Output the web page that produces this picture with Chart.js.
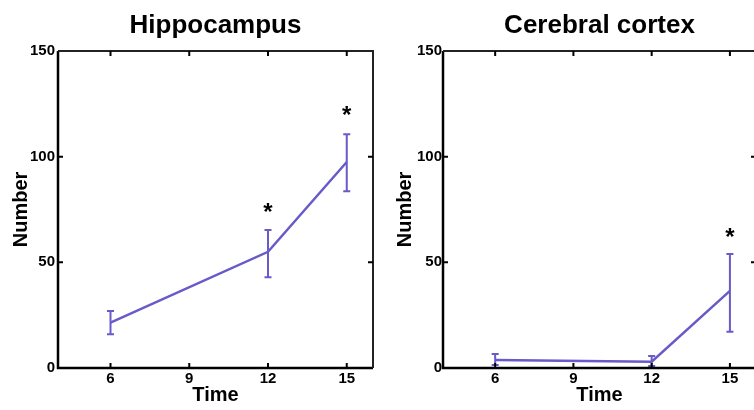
<!DOCTYPE html>
<html>
<head>
<meta charset="utf-8">
<script src="https://cdn.jsdelivr.net/npm/chart.js@4.4.1/dist/chart.umd.min.js"></script>
<style>
  html, body { margin: 0; padding: 0; background: #fff; }
  #wrap { position: relative; width: 754px; height: 410px; overflow: hidden; }
  .panel { position: absolute; top: 0; }
</style>
</head>
<body>
<div id="wrap">
  <div class="panel" style="left:0"><canvas id="hippo" width="380" height="410"></canvas></div>
  <div class="panel" style="left:380px"><canvas id="cortex" width="390" height="410"></canvas></div>
</div>
<script>
/* data */
const times = [6, 12, 15];
const xTicks = [6, 9, 12, 15];
const yTicks = [0, 50, 100, 150];

const hippoMean  = [21.5, 55, 97.5];
const hippoUpper = [27, 65.3, 110.6];
const hippoLower = [16, 43, 83.6];
const hippoStars = [{ x: 12, y: 75 }, { x: 15, y: 121 }];

const cortexMean  = [3.8, 3, 36.5];
const cortexUpper = [6.6, 5.7, 53.9];
const cortexLower = [1.4, 1, 17.2];
const cortexStars = [{ x: 15, y: 63 }];

const LINE = "rgb(104,90,200)";
const FONT = "'Liberation Sans', Arial, sans-serif";

/* title over the plot box, frame, inward ticks, error bars, asterisks */
const extras = {
  id: "extras",
  afterDatasetsDraw(chart, args, opts) {
    const { ctx, chartArea: a, scales: { x, y } } = chart;
    ctx.save();

    // error bars
    ctx.strokeStyle = LINE;
    ctx.lineWidth = 2;
    opts.mean.forEach((m, i) => {
      const px = x.getPixelForValue(times[i]);
      const top = y.getPixelForValue(opts.upper[i]);
      const bot = y.getPixelForValue(opts.lower[i]);
      ctx.beginPath();
      ctx.moveTo(px, top); ctx.lineTo(px, bot);
      ctx.moveTo(px - 3.5, top); ctx.lineTo(px + 3.5, top);
      ctx.moveTo(px - 3.5, bot); ctx.lineTo(px + 3.5, bot);
      ctx.stroke();
    });

    // frame
    ctx.strokeStyle = "#000";
    ctx.lineWidth = 2.5;
    ctx.beginPath();
    ctx.moveTo(a.left, a.top); ctx.lineTo(a.left, a.bottom); ctx.lineTo(a.right, a.bottom);
    ctx.stroke();
    ctx.lineWidth = 2;
    ctx.strokeStyle = "#222";
    ctx.beginPath();
    ctx.moveTo(a.left, a.top); ctx.lineTo(a.right, a.top); ctx.lineTo(a.right, a.bottom);
    ctx.stroke();

    // inward ticks
    ctx.strokeStyle = "#000";
    ctx.lineWidth = 2;
    ctx.beginPath();
    xTicks.forEach(v => {
      const px = x.getPixelForValue(v);
      ctx.moveTo(px, a.bottom); ctx.lineTo(px, a.bottom - 5);
      ctx.moveTo(px, a.top); ctx.lineTo(px, a.top + 5);
    });
    yTicks.slice(1, -1).forEach(v => {
      const py = y.getPixelForValue(v);
      ctx.moveTo(a.left, py); ctx.lineTo(a.left + 5, py);
      ctx.moveTo(a.right, py); ctx.lineTo(a.right - 5, py);
    });
    ctx.stroke();

    // significance marks
    ctx.fillStyle = "#000";
    ctx.textAlign = "center";
    ctx.textBaseline = "middle";
    ctx.font = "bold 24px " + FONT;
    opts.stars.forEach(s => {
      ctx.fillText("*", x.getPixelForValue(s.x), y.getPixelForValue(s.y) + 4);
    });

    // panel title, centred over the plot box
    ctx.font = "bold 26px " + FONT;
    ctx.fillText(opts.title, (a.left + a.right) / 2, 26);
    ctx.restore();
  }
};

function makePanel(id, title, mean, upper, lower, stars, yWidth, yPad, yTitlePad, rightPad) {
  return new Chart(document.getElementById(id), {
    type: "scatter",
    data: {
      datasets: [{
        data: times.map((t, i) => ({ x: t, y: mean[i] })),
        showLine: true,
        borderColor: LINE,
        borderWidth: 2.5,
        pointRadius: 0,
        tension: 0
      }]
    },
    options: {
      responsive: false,
      animation: false,
      layout: { padding: { right: rightPad, left: 0, top: 51, bottom: 0 } },
      plugins: {
        legend: { display: false },
        tooltip: { enabled: false },
        title: { display: false },
        extras: { title, mean, upper, lower, stars }
      },
      scales: {
        x: {
          type: "linear",
          min: 4, max: 16,
          afterBuildTicks: s => { s.ticks = xTicks.map(v => ({ value: v })); },
          afterFit: s => { s.height = 42; },
          grid: { display: false, drawTicks: false },
          border: { display: false },
          ticks: { color: "#000", padding: 2, font: { family: FONT, size: 15, weight: "bold" } },
          title: {
            display: true, text: "Time", color: "#000",
            font: { family: FONT, size: 20, weight: "bold" },
            padding: { top: 0, bottom: 3 }
          }
        },
        y: {
          min: 0, max: 150,
          afterBuildTicks: s => { s.ticks = yTicks.map(v => ({ value: v })); },
          afterFit: s => { s.width = yWidth; },
          grid: { display: false, drawTicks: false },
          border: { display: false },
          ticks: { color: "#000", padding: yPad, font: { family: FONT, size: 15, weight: "bold" } },
          title: {
            display: true, text: "Number", color: "#000",
            font: { family: FONT, size: 20, weight: "bold" },
            padding: { top: yTitlePad, bottom: 0 }
          }
        }
      }
    },
    plugins: [extras]
  });
}

makePanel("hippo", "Hippocampus", hippoMean, hippoUpper, hippoLower, hippoStars, 58, 3, 9, 7);
makePanel("cortex", "Cerebral cortex", cortexMean, cortexUpper, cortexLower, cortexStars, 63, 1, 13, 14);
</script>
</body>
</html>
